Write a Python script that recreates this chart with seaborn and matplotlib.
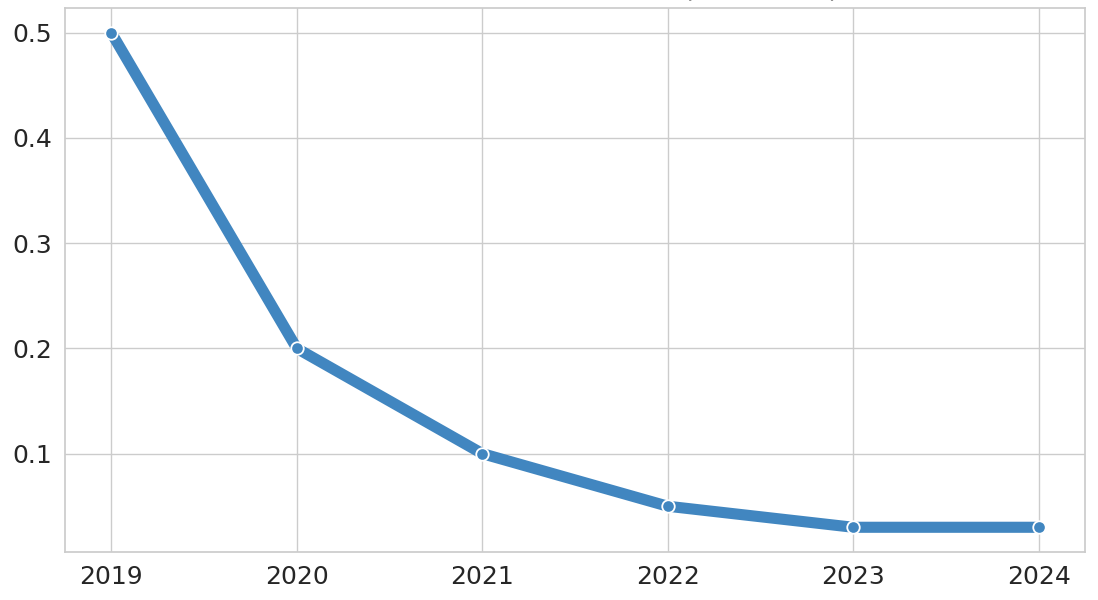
import pandas as pd
import matplotlib.pyplot as plt
import seaborn as sns

years = [2019, 2020, 2021, 2022, 2023, 2024]
values = [0.5, 0.2, 0.1, 0.05, 0.03, 0.03]

df = pd.DataFrame({"Year": years, "Value": values})

sns.set_theme(style="whitegrid", font_scale=1.5)
plt.rcParams['font.family'] = ['DejaVu Sans']

fig = plt.figure(figsize=(10.98, 6.0), dpi=100)
ax = fig.add_axes([65 / 1098, 48 / 600, 1020 / 1098, 544 / 600])

sns.lineplot(data=df, x="Year", y="Value", ax=ax, color="#4186c0",
             linewidth=8, marker="o", markersize=9,
             markeredgecolor="white", markeredgewidth=1.3)

ax.set_xticks(years)
ax.set_yticks([0.1, 0.2, 0.3, 0.4, 0.5])
ax.tick_params(axis="both", labelsize=18, colors=".15")
ax.set_xlabel("")
ax.set_ylabel("Cost per unit", fontsize=18, labelpad=62)
ax.set_title("Unit Cost Trend Over Time (USD each)", fontsize=20, pad=8.5)

fig.savefig("out.png", dpi=100)
